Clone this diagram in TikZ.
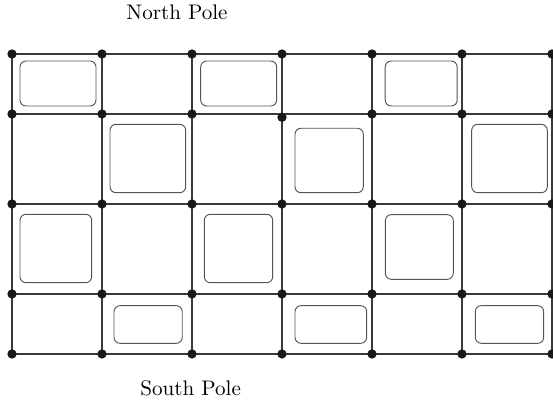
\documentclass[tikz,border=0pt]{standalone}
\usepackage{tikz}
\usetikzlibrary{positioning}
\definecolor{mline}{HTML}{3A3A3A}
\definecolor{mbox}{HTML}{555555}
\tikzstyle{gridline} = [line width = 0.55pt, draw = mline]
\tikzstyle{dot} = [circle, fill = black!90, inner sep = 0pt, minimum size = 0.155cm]
\tikzstyle{cellbox} = [line width = 0.45pt, draw = mbox, rounded corners = 0.1cm]
\tikzstyle{pole} = [anchor = base, font = \normalsize]

\begin{document}
\begin{tikzpicture}
\useasboundingbox (0,0) rectangle (9.217,6.7);
%Grid points
\foreach \i in {0,...,6}
  \foreach \j/\y in {0/0.8, 1/1.8, 2/3.3, 3/4.8, 4/5.8}
    \coordinate (c-\i-\j) at ({0.2+1.5*\i},\y);
%Grid lines
\foreach \j in {0,...,4}
  \draw [gridline] (c-0-\j) -- (c-6-\j);
\foreach \i in {0,...,6}
  \draw [gridline] (c-\i-0) -- (c-\i-4);
%Dots
\foreach \i in {0,...,6}
  \foreach \j in {0,...,4} {
    \pgfmathtruncatemacro\off{and(\i==3,\j==3)}
    \node (d-\i-\j) [dot, yshift = -0.055cm*\off] at (c-\i-\j) {};
  }
%Boxes
\foreach \xa/\ya/\xb/\yb in {0.333/4.933/1.6/5.683, 3.345/4.933/4.612/5.683, 6.42/4.933/7.62/5.683,
    1.833/3.488/3.095/4.628, 4.917/3.488/6.055/4.562, 7.862/3.488/9.122/4.628,
    0.333/1.988/1.528/3.128, 3.405/1.988/4.545/3.128, 6.422/2.045/7.555/3.122,
    1.9/0.978/3.038/1.605, 4.917/0.978/6.112/1.605, 7.922/0.978/9.062/1.605}
  \draw [cellbox] (\xa,\ya) rectangle (\xb,\yb);
%Labels
\node (north) [pole] at (2.95,6.383) {North Pole};
\node (south) [pole] at (3.178,0.1) {South Pole};
\end{tikzpicture}
\end{document}
